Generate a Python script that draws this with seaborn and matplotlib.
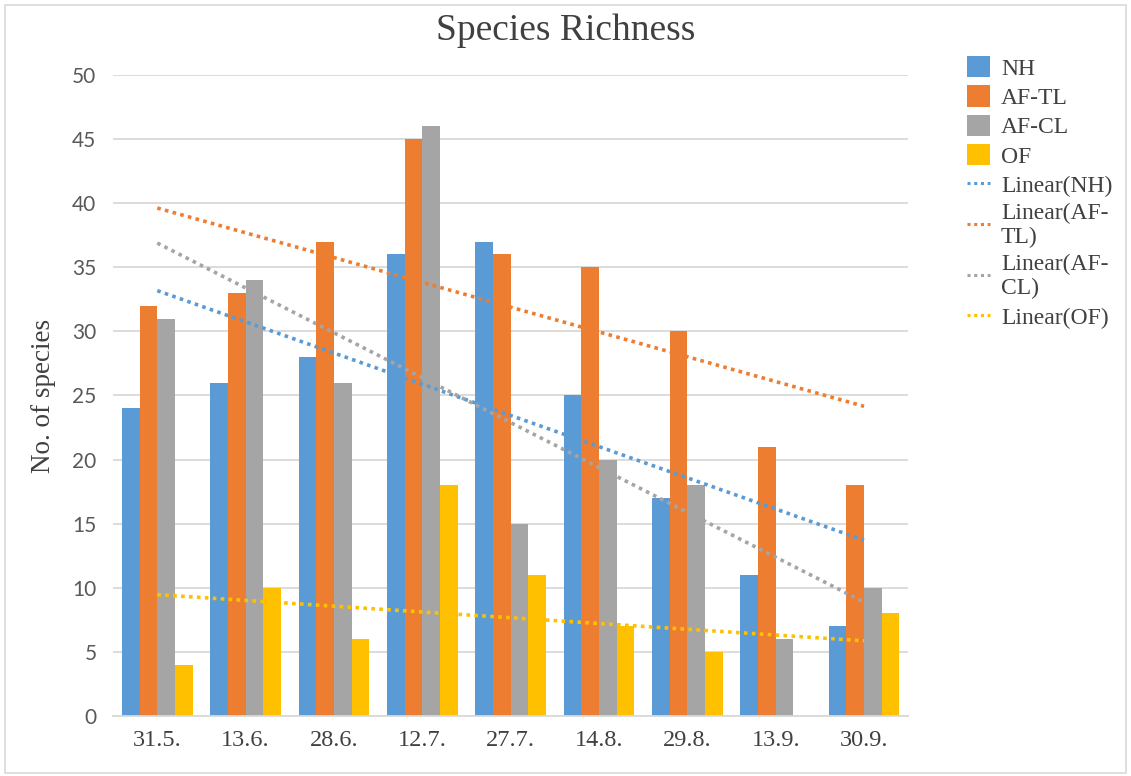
import numpy as np
import pandas as pd
import matplotlib.pyplot as plt
import seaborn as sns
from matplotlib.patches import Patch, Rectangle
from matplotlib.lines import Line2D

# Data
dates = ["31.5.", "13.6.", "28.6.", "12.7.", "27.7.", "14.8.", "29.8.", "13.9.", "30.9."]
nh = [24, 26, 28, 36, 37, 25, 17, 11, 7]
af_tl = [32, 33, 37, 45, 36, 35, 30, 21, 18]
af_cl = [31, 34, 26, 46, 15, 20, 18, 6, 10]
of = [4, 10, 6, 18, 11, 7, 5, 0, 8]

series = ["NH", "AF-TL", "AF-CL", "OF"]
colors = ["#5B9BD5", "#ED7D31", "#A5A5A5", "#FFC000"]

df = pd.DataFrame({"date": dates, "NH": nh, "AF-TL": af_tl, "AF-CL": af_cl, "OF": of})
long_df = df.melt(id_vars="date", var_name="site", value_name="species")

sns.set_style("white")
plt.rcParams["font.family"] = ["Liberation Serif", "DejaVu Serif"]

fig = plt.figure(figsize=(11.31, 7.76), dpi=100)
ax = fig.add_axes([0.1, 0.0773, 0.703, 0.8261])

# Grouped bars
sns.barplot(
    data=long_df, x="date", y="species", hue="site", order=dates,
    hue_order=series, palette=colors, width=0.8, saturation=1,
    linewidth=0, edgecolor="none", ax=ax, legend=False, zorder=2,
)

# Linear trendlines
idx = np.arange(len(dates))
for name, col in zip(series, colors):
    sns.regplot(
        x=idx, y=df[name].values, scatter=False, ci=None, truncate=True, ax=ax,
        line_kws=dict(color=col, linestyle=(0, (1, 1.2)), linewidth=2.6, zorder=3),
    )

ax.set_xlim(-0.5, len(dates) - 0.5)
ax.set_ylim(0, 50)
ax.set_yticks(range(0, 51, 5))
ax.set_xticks(idx)
ax.set_xticklabels(dates, fontsize=17.5, color="#404040")
ax.set_yticklabels([str(v) for v in range(0, 51, 5)], fontsize=15,
                   color="#595959", family="Lato")
ax.tick_params(axis="x", length=0, pad=10)
ax.tick_params(axis="y", length=0, pad=12)
ax.yaxis.grid(True, color="#D9D9D9", linewidth=1.3, zorder=0)
ax.set_axisbelow(True)
for s in ["top", "right", "left"]:
    ax.spines[s].set_visible(False)
ax.spines["bottom"].set_color("#D9D9D9")
ax.spines["bottom"].set_linewidth(1.3)

ax.set_xlabel("")
ax.set_ylabel("No. of species", fontsize=19.5, color="#404040", labelpad=12)
fig.text(0.5, 0.96, "Species Richness", ha="center", va="center",
         fontsize=27, color="#404040")

# Legend
handles = [Patch(facecolor=c, edgecolor="none") for c in colors]
handles += [Line2D([0], [0], color=c, linestyle=(0, (1, 1.2)), linewidth=2.2) for c in colors]
labels = series + ["Linear(NH)", "Linear(AF-\nTL)", "Linear(AF-\nCL)", "Linear(OF)"]
fig.legend(handles, labels, loc="upper left", bbox_to_anchor=(0.836, 0.955),
           frameon=False, fontsize=17, handlelength=1.0, handleheight=1.0,
           handletextpad=0.45, labelspacing=0.24, labelcolor="#404040")

# Chart border
fig.patches.append(Rectangle((0.004, 0.004), 0.992, 0.99, transform=fig.transFigure,
                             fill=False, edgecolor="#D9D9D9", linewidth=1.2))

fig.savefig("out.png", dpi=100)
